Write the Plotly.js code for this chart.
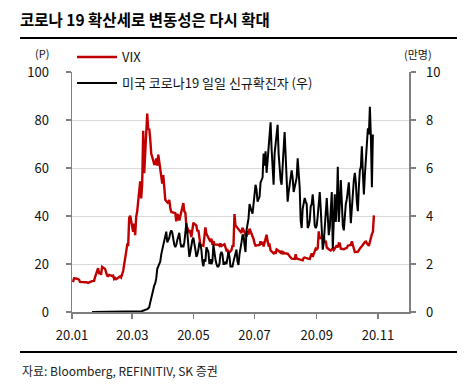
<!DOCTYPE html>
<html>
<head>
<meta charset="utf-8">
<script src="https://cdn.plot.ly/plotly-3.0.1.min.js"></script>
<style>html,body{margin:0;padding:0;background:#fff;}#chart{width:472px;height:392px;}</style>
</head>
<body>
<div id="chart"></div>
<script>
// ---------- DATA ----------
const titleText = "코로나 19 확산세로 변동성은 다시 확대";
const sourceText = "자료: Bloomberg, REFINITIV, SK 증권";
const vixName = "VIX";
const casesName = "미국 코로나19 일일 신규확진자 (우)";
const leftUnit = "(P)";
const rightUnit = "(만명)";
const xTickVals = ["2020-01-01","2020-03-01","2020-05-01","2020-07-01","2020-09-01","2020-11-01"];
const xTickText = ["20.01","20.03","20.05","20.07","20.09","20.11"];

// VIX daily close (trading days from 2020-01-02)
const vixJan = [12.47,14.02,13.85,13.79,13.45,12.54,12.56,12.32,12.39,12.42,12.32,12.10,12.85,12.91,12.98,14.56,18.23,16.28,16.39,15.49,18.84];
const vixFeb = [17.97,16.05,15.15,14.96,15.47,15.04,15.18,13.74,14.15,13.68,14.83,14.38,15.56,17.08,25.03,27.85,27.56,39.16,40.11];
const vixMar = [33.42,36.82,31.99,39.62,41.94,54.46,47.30,53.90,75.47,57.83,82.69,75.91,76.45,72.00,66.04,61.59,61.67,63.95,61.00,65.54,57.08,53.54];
const vixApr = [57.06,50.91,46.80,45.24,46.70,43.35,41.67,41.17,37.76,40.84,40.11,38.15,43.83,45.41,41.98,41.38,35.93,33.29,33.57,31.23,34.15];
const vixMay = [37.19,35.97,33.61,34.12,31.44,27.98,27.57,33.04,35.28,32.61,31.89,29.30,30.53,27.99,29.53,28.16,28.01,27.62,28.59,27.51];
const vixJun = [28.23,26.84,25.66,25.81,24.52,25.81,27.57,27.57,40.79,36.09,34.40,33.67,33.47,32.94,35.12,31.77,31.37,33.84,32.22,34.73,31.78,30.43];
const vixJul = [28.62,27.68,27.94,29.43,28.08,29.26,27.29,32.19,29.52,27.76,28.00,25.68,24.46,24.84,24.32,26.08,25.84,24.74,25.44,24.10,24.76,24.46];
const vixAug = [24.28,23.76,23.00,22.65,22.21,22.13,24.03,22.28,22.13,22.05,21.35,21.51,22.54,22.72,22.54,22.37,22.03,23.27,24.47,22.96,26.41];
const vixSep = [26.12,26.57,33.60,30.75,31.46,28.81,29.71,26.87,25.85,25.59,26.04,26.46,25.83,27.78,26.86,28.58,28.51,26.38,26.19,26.27,26.37];
const vixOct = [26.70,27.63,27.96,29.48,28.06,26.36,25.00,25.07,26.07,26.40,26.97,27.41,29.18,29.35,28.65,28.11,27.55,32.46,33.35,40.28];
const marketHolidays = ["2020-01-20","2020-02-17","2020-04-10","2020-05-25","2020-07-03","2020-09-07"];

// US daily new cases, 10k persons (daily from 2020-01-21)
const casesJanFeb = [0,0,0,0,0,0,0,0,0,0,0, 0,0,0,0,0,0,0,0,0,0,0,0,0,0,0,0,0,0,0,0,0,0,0,0,0,0,0,0,0];
const casesMar = [0,0,0,0,0.01,0.01,0.02,0.01,0.02,0.03,0.04,0.05,0.07,0.08,0.09,0.12,0.15,0.2,0.4,0.6,0.8,1.0,1.1,1.2,1.4,1.8,1.9,2.0,2.1,2.4,2.6];
const casesApr = [2.8,3.0,3.2,3.35,2.9,3.0,3.1,3.3,3.4,3.3,3.0,2.8,2.7,2.8,3.0,3.2,3.3,2.9,2.7,2.8,2.7,2.9,3.3,3.7,3.3,2.7,2.3,2.5,2.8,3.0];
const casesMay = [3.1,2.9,2.6,2.3,2.4,2.6,2.9,2.8,2.6,2.1,1.9,2.2,2.1,2.7,2.6,2.5,2.0,2.2,2.0,2.1,2.8,2.4,2.2,2.0,1.9,1.9,2.0,2.4,2.5,2.4,2.0];
const casesJun = [2.0,2.1,2.0,2.2,2.5,2.3,1.9,1.9,1.9,2.1,2.3,2.5,2.6,2.1,1.96,2.4,2.6,2.9,3.2,3.2,2.8,2.5,3.4,3.7,3.9,4.5,4.3,4.2,4.1,4.6];
const casesJul = [5.0,5.3,5.1,4.6,4.7,4.8,5.4,5.5,5.6,6.6,6.1,6.7,5.8,6.3,6.9,7.5,7.9,6.8,6.1,5.3,6.6,7.0,7.6,7.8,6.6,5.8,5.5,5.3,6.3,6.8,7.5];
const casesAug = [6.6,5.2,4.6,5.0,5.3,5.6,5.9,5.6,5.0,5.2,5.4,5.6,6.4,5.9,5.2,3.8,3.5,4.3,4.5,4.75,4.6,4.5,3.5,3.6,3.8,4.4,4.5,4.9,4.4,3.6,3.5];
const casesSep = [3.6,4.0,4.4,5.0,4.3,3.4,2.6,2.9,3.5,3.9,4.75,4.0,3.2,3.5,4.2,5.0,2.65,4.0,4.9,3.75,4.5,6.05,3.75,4.5,5.5,4.6,3.6,3.4,4.0,4.5];
const casesOct = [4.7,5.0,5.4,4.6,3.7,4.3,5.0,5.5,5.8,5.4,4.6,4.2,5.2,5.9,6.05,6.9,5.8,4.9,5.7,6.3,6.8,7.65,7.4,8.55,7.3,5.2,7.4];

// ---------- BUILD ----------
const vix = [].concat(vixJan,vixFeb,vixMar,vixApr,vixMay,vixJun,vixJul,vixAug,vixSep,vixOct);
const vixDates = [];
{
  const d = new Date(Date.UTC(2020,0,2));
  while (vixDates.length < vix.length) {
    const iso = d.toISOString().slice(0,10);
    const dow = d.getUTCDay();
    if (dow !== 0 && dow !== 6 && marketHolidays.indexOf(iso) < 0) vixDates.push(iso);
    d.setUTCDate(d.getUTCDate()+1);
  }
}
const cases = [].concat(casesJanFeb,casesMar,casesApr,casesMay,casesJun,casesJul,casesAug,casesSep,casesOct);
const caseDates = [];
{
  const d = new Date(Date.UTC(2020,0,21));
  for (let i=0;i<cases.length;i++){ caseDates.push(d.toISOString().slice(0,10)); d.setUTCDate(d.getUTCDate()+1); }
}

const FONT = "'Noto Sans CJK KR', 'Noto Sans', sans-serif";
const axisGray = "#7f7f7f";

const traces = [
  {x: vixDates, y: vix, name: vixName, type: 'scatter', mode: 'lines',
   line: {color: '#c00000', width: 2.4}, yaxis: 'y', legend: 'legend'},
  {x: caseDates, y: cases, name: casesName, type: 'scatter', mode: 'lines',
   line: {color: '#000000', width: 2}, yaxis: 'y2', legend: 'legend2'}
];

const legendCommon = {xref:'paper', yref:'paper', xanchor:'left', yanchor:'middle',
  bgcolor:'rgba(0,0,0,0)', borderwidth:0, font:{family:FONT, size:13, color:'#111'}, itemwidth:40};

const layout = {
  width: 472, height: 392,
  margin: {l:72, r:63, t:72, b:80, pad:0},
  paper_bgcolor: '#fff', plot_bgcolor: '#fff',
  font: {family: FONT, size: 13, color: '#111'},
  title: {text: '<b>'+titleText+'</b>', font:{family:FONT, size:15.5, color:'#000'},
          xref:'container', yref:'container', x: 20/472, xanchor:'left', y: 1-21/392, yanchor:'middle'},
  showlegend: true,
  legend: Object.assign({x: 0.0, y: (312-57)/240}, legendCommon),
  legend2: Object.assign({x: 0.0, y: (312-83)/240}, legendCommon),
  xaxis: {type:'date', range:['2020-01-01','2020-12-02'], tickmode:'array', tickvals:xTickVals, ticktext:xTickText,
          ticks:'outside', ticklen:5, tickcolor:axisGray, tickwidth:1.5, showline:true, linecolor:axisGray, linewidth:1.5,
          showgrid:false, zeroline:false, tickfont:{family:FONT, size:13, color:'#111'}, ticklabelstandoff:6},
  yaxis: {range:[0,100], dtick:20, tick0:0, ticks:'outside', ticklen:5, tickcolor:axisGray, tickwidth:1.5,
          showline:true, linecolor:axisGray, linewidth:1.5, showgrid:true, gridcolor:'#d9d9d9', gridwidth:1,
          zeroline:false, tickfont:{family:FONT, size:13, color:'#111'}, ticklabelstandoff:14},
  yaxis2: {range:[0,10], dtick:2, tick0:0, overlaying:'y', side:'right', ticks:'outside', ticklen:5, tickcolor:axisGray, tickwidth:1.5,
          showline:true, linecolor:axisGray, linewidth:1.5, showgrid:false, zeroline:false,
          tickfont:{family:FONT, size:13, color:'#111'}, ticklabelstandoff:8},
  shapes: [
    {type:'line', xref:'paper', yref:'paper', x0:(20-72)/337, x1:(457-72)/337, y0:(312-38)/240, y1:(312-38)/240, line:{color:'#000', width:2}},
    {type:'line', xref:'paper', yref:'paper', x0:(20-72)/337, x1:(457-72)/337, y0:(312-352)/240, y1:(312-352)/240, line:{color:'#000', width:2}}
  ],
  annotations: [
    {text: sourceText, xref:'paper', yref:'paper', x:(20-72)/337, y:(312-370)/240, xanchor:'left', yanchor:'middle',
     showarrow:false, font:{family:FONT, size:12, color:'#222'}},
    {text: leftUnit, xref:'paper', yref:'paper', x:(42-72)/337, y:(312-53)/240, xanchor:'center', yanchor:'middle',
     showarrow:false, font:{family:FONT, size:11, color:'#111'}},
    {text: rightUnit, xref:'paper', yref:'paper', x:(418-72)/337, y:(312-54)/240, xanchor:'center', yanchor:'middle',
     showarrow:false, font:{family:FONT, size:11, color:'#111'}}
  ]
};

Plotly.newPlot('chart', traces, layout, {displayModeBar:false, staticPlot:true});
</script>
</body>
</html>
